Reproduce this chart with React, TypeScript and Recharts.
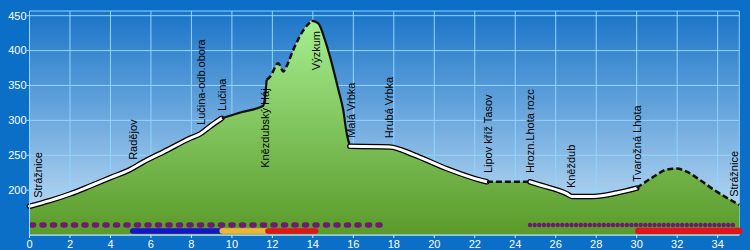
import React from 'react';
import { ComposedChart, Area, Line, Scatter, XAxis, YAxis, CartesianGrid } from 'recharts';

// Elevation profile (distance in km, elevation in m)
const profileKm = [0, 1, 2, 3, 4, 5, 5.6, 6.8, 7.9, 8.42, 8.9, 9.5, 10.5, 11.55, 11.72, 11.9, 12.29, 12.54, 12.71, 13.03, 13.53, 13.94, 14.27, 14.6, 14.85, 15.26, 15.5, 15.67, 15.83, 17.8, 18.96, 20.6, 22.26, 22.6, 24.73, 25.22, 26.54, 26.8, 27.86, 29.01, 30.0, 30.82, 31.48, 31.97, 32.47, 33.13, 33.95, 35.07];
const profileElev = [177, 185, 194.5, 206, 218, 230, 240, 257.5, 274, 280.5, 291, 303, 312, 321, 358, 363, 382, 370, 378, 401, 429, 443, 439, 415, 391, 344, 315, 282, 263, 262, 251, 231, 214.5, 212, 212, 207.5, 195, 191, 191, 196, 203, 219, 229.5, 231, 226.5, 214.5, 198, 179];

// Surface type of each stretch between consecutive breaks
const segmentBreaks = [0, 9.5, 11.72, 13.94, 15.83, 22.6, 24.73, 30.0, 35.07];
const segmentKinds = ['road', 'path', 'track', 'path', 'road', 'track', 'road', 'track'];

// Station labels
const stationNames = ['Strážnice', 'Radějov', 'Lučina-odb.obora', 'Lučina', 'Knězdubský Háj', 'Výzkum', 'Malá Vrbka', 'Hrubá Vrbka', 'Lipov kříž Tasov', 'Hrozn.Lhota rozc', 'Kněždub', 'Tvarožná Lhota', 'Strážnice'];
const stationKm = [0.42, 5.09, 8.47, 9.51, 11.64, 14.18, 15.88, 17.76, 22.65, 24.73, 26.75, 30.0, 34.81];
const stationLabelElev = [189, 243.5, 293.5, 313.5, 232, 372, 275, 274.5, 224.5, 224.5, 203, 212, 190.5];

// Trail markings (from km, to km)
const purpleTrails = [[0.1, 17.55], [24.73, 34.84]];
const blueTrail = [5.1, 9.4];
const yellowTrail = [9.52, 11.72];
const redTrails = [[11.78, 14.13], [30.08, 35.07]];

const xTicks = [0, 2, 4, 6, 8, 10, 12, 14, 16, 18, 20, 22, 24, 26, 28, 30, 32, 34];
const yTicks = [200, 250, 300, 350, 400, 450];

const profile = profileKm.map((km, i) => ({ km, elev: profileElev[i] }));
const segments = segmentKinds.map((kind, i) => ({
  kind,
  data: profile.filter((p) => p.km >= segmentBreaks[i] - 1e-9 && p.km <= segmentBreaks[i + 1] + 1e-9),
}));
const stations = stationNames.map((name, i) => ({ name, km: stationKm[i], labelElev: stationLabelElev[i] }));

const FONT = '"Liberation Sans", Arial, sans-serif';
const TRAIL_UPPER = 150.1;
const TRAIL_LOWER = 141.6;

const StationLabel = (props: any) => {
  const { cx, cy, payload } = props;
  if (cx == null || cy == null) return null;
  return (
    <text
      x={cx}
      y={cy}
      transform={`rotate(-90 ${cx} ${cy})`}
      textAnchor="start"
      dominantBaseline="central"
      fontSize={11}
      fontFamily={FONT}
      fill="#000"
    >
      {payload.name}
    </text>
  );
};

const seg = (r: number[], y: number) => [{ km: r[0], y }, { km: r[1], y }];

export default function App() {
  const lines: React.ReactNode[] = [];
  segments.forEach((s, i) => {
    if (s.kind === 'road') {
      lines.push(
        <Line key={`rb${i}`} data={s.data} dataKey="elev" type="monotone" stroke="#000" strokeWidth={5.5} strokeLinecap="round" dot={false} activeDot={false} isAnimationActive={false} />
      );
      lines.push(
        <Line key={`rw${i}`} data={s.data} dataKey="elev" type="monotone" stroke="#fff" strokeWidth={3} strokeLinecap="round" dot={false} activeDot={false} isAnimationActive={false} />
      );
    } else if (s.kind === 'path') {
      lines.push(
        <Line key={`p${i}`} data={s.data} dataKey="elev" type="monotone" stroke="#111" strokeWidth={2.2} dot={false} activeDot={false} isAnimationActive={false} />
      );
    } else {
      lines.push(
        <Line key={`t${i}`} data={s.data} dataKey="elev" type="monotone" stroke="#111" strokeWidth={2.5} strokeDasharray="6 3" dot={false} activeDot={false} isAnimationActive={false} />
      );
    }
  });

  return (
    <div style={{ position: 'fixed', left: 0, top: 0, width: 750, height: 250, background: '#0b6fc7' }}>
      <ComposedChart width={750} height={250} data={profile} margin={{ top: 11, right: 10.7, bottom: 0, left: 0 }}>
        <defs>
          <linearGradient id="plotBg" x1="0" y1="0" x2="0" y2="1">
            <stop offset="0%" stopColor="#1a74c8" />
            <stop offset="100%" stopColor="#c8e2f6" />
          </linearGradient>
          <linearGradient id="greenFill" x1="0" y1="0" x2="0" y2="1">
            <stop offset="0%" stopColor="#a6ee90" />
            <stop offset="100%" stopColor="#5a9a2a" />
          </linearGradient>
        </defs>
        <CartesianGrid fill="url(#plotBg)" fillOpacity={1} stroke="#8fd6ff" strokeWidth={1} />
        <XAxis
          dataKey="km"
          type="number"
          domain={[0, 35.07]}
          ticks={xTicks}
          interval={0}
          height={15}
          tickSize={3}
          tickMargin={2}
          stroke="#cdeeff"
          tick={{ fill: '#fff', fontSize: 11, fontFamily: FONT }}
        />
        <YAxis
          type="number"
          domain={[135.8, 456.7]}
          ticks={yTicks}
          interval={0}
          width={29.5}
          tickSize={3}
          tickMargin={0}
          stroke="#9adcff"
          tick={{ fill: '#fff', fontSize: 11, fontFamily: FONT }}
        />
        <Area dataKey="elev" type="monotone" fill="url(#greenFill)" fillOpacity={1} stroke="none" isAnimationActive={false} activeDot={false} />
        {lines}
        <Line data={seg(purpleTrails[0], TRAIL_UPPER)} dataKey="y" stroke="#6b1e6e" strokeWidth={5.5} strokeDasharray="2 8.5" strokeLinecap="round" dot={false} activeDot={false} isAnimationActive={false} />
        <Line data={seg(purpleTrails[1], TRAIL_UPPER)} dataKey="y" stroke="#6b1e6e" strokeWidth={4.5} strokeDasharray="0.01 4.6" strokeLinecap="round" dot={false} activeDot={false} isAnimationActive={false} />
        <Line data={seg(blueTrail, TRAIL_LOWER)} dataKey="y" stroke="#1414c8" strokeWidth={5.5} strokeLinecap="round" dot={false} activeDot={false} isAnimationActive={false} />
        <Line data={seg(yellowTrail, TRAIL_LOWER)} dataKey="y" stroke="#f2b33d" strokeWidth={5.5} strokeLinecap="round" dot={false} activeDot={false} isAnimationActive={false} />
        <Line data={seg(redTrails[0], TRAIL_LOWER)} dataKey="y" stroke="#e0141a" strokeWidth={5.5} strokeLinecap="round" dot={false} activeDot={false} isAnimationActive={false} />
        <Line data={seg(redTrails[1], TRAIL_LOWER)} dataKey="y" stroke="#e0141a" strokeWidth={6.5} strokeLinecap="round" dot={false} activeDot={false} isAnimationActive={false} />
        <Scatter data={stations} dataKey="labelElev" shape={StationLabel} isAnimationActive={false} />
      </ComposedChart>
    </div>
  );
}
